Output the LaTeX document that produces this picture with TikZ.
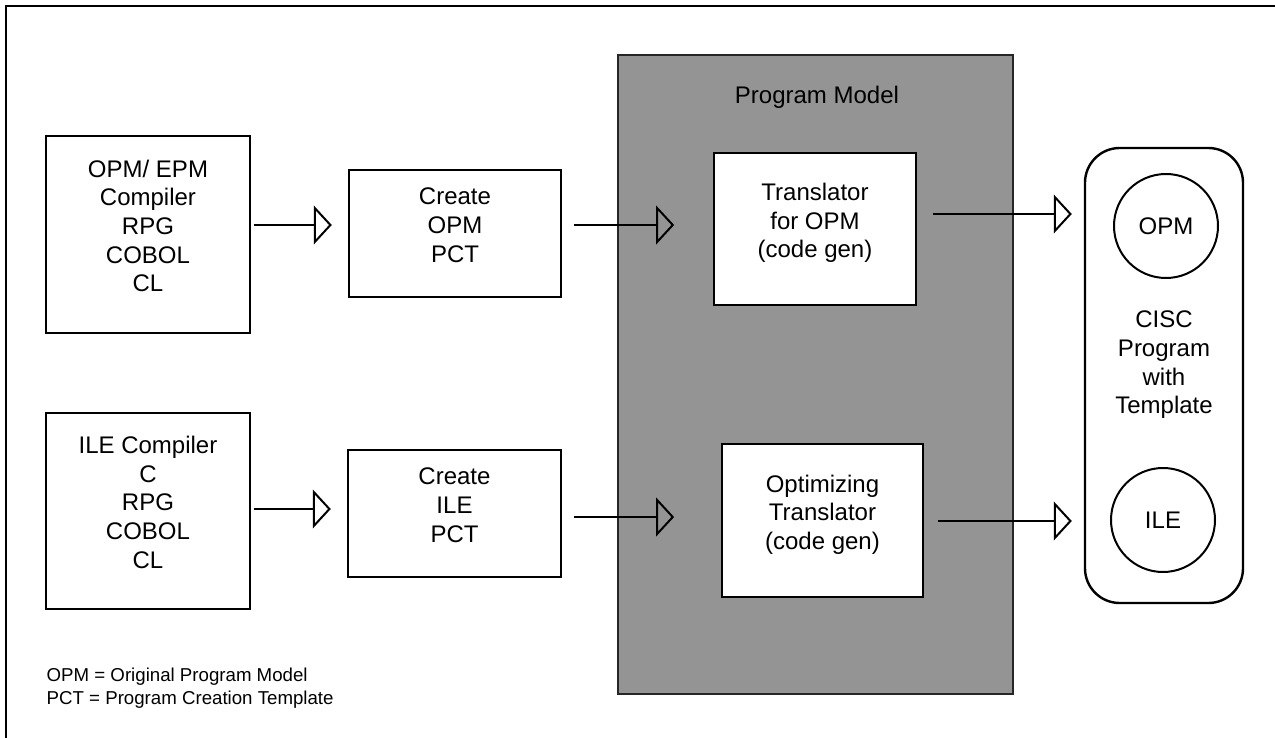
\documentclass[tikz,border=0pt]{standalone}
\usepackage{fontspec}
\setmainfont{Liberation Sans}
\usetikzlibrary{arrows.meta,fit}
\begin{document}
\begin{tikzpicture}[x=0.75pt,y=-0.75pt,
  every node/.style={font=\fontsize{18}{21.5}\selectfont, align=center},
  box/.style={draw, line width=1.8pt, fill=white, inner sep=0pt},
  model/.style={draw=black!85, line width=1.6pt, fill=black!42, inner sep=0pt},
  flow/.style={line width=1.5pt, -{Triangle[open,length=13.5pt,width=29pt,line width=1.5pt]}},
  ring/.style={draw, circle, line width=1.5pt, minimum size=78pt, inner sep=0pt},
  note/.style={font=\fontsize{14}{17.25}\selectfont, align=left, anchor=west}
]
\useasboundingbox (0,0) rectangle (1275,738);
\fill[white] (0,0) rectangle (1275,738);

% page frame
\draw[line width=1.5pt] (6,738) -- (6,6) -- (1275,6);

% shaded program model area
\node[model, fit={(618,55)(1013,694)}] (pm) {};
\node (pmtitle) at (817,97) {Program Model};

% source compilers
\node[box, fit={(46,136)(250,333)}] (opmc) {OPM/ EPM\\Compiler\\RPG\\COBOL\\CL};
\node[box, fit={(46,413)(250,609)}] (ilec) {ILE Compiler\\C\\RPG\\COBOL\\CL};

% template creation
\node[box, fit={(349,170)(561,297)}] (opmpct) {Create\\OPM\\PCT};
\node[box, fit={(348,450)(561,577)}] (ilepct) {Create\\ILE\\PCT};

% translators
\node[box, fit={(714,153)(916,305)}] (trans) {};
\node (transtxt) at ([yshift=4.5pt]trans.center) {Translator\\for OPM\\(code gen)};
\node[box, fit={(722,444)(923,597)}] (optim) {};
\node (optimtxt) at ([yshift=4.5pt]optim.center) {Optimizing\\Translator\\(code gen)};

% resulting program
\node[draw, line width=1.8pt, rounded corners=26pt, fit={(1085,148)(1243,603)}, inner sep=0pt] (cisc) {};
\node[ring] (copm) at (1166,226) {OPM};
\node[ring] (cile) at (1163,520) {ILE};
\node (ciscl) at (1164,365) {CISC\\Program\\with\\Template};

% arrow heights
\coordinate (ya) at (0,225);
\coordinate (yb) at (0,214);
\coordinate (yc) at (0,509);
\coordinate (yd) at (0,517);
\coordinate (ye) at (0,521);

\draw[flow, shorten <=2pt, shorten >=12pt] (opmc.east |- ya) -- (opmpct.west |- ya);
\draw[flow, shorten <=9pt, shorten >=29pt] (opmpct.east |- ya) -- (trans.west |- ya);
\draw[flow, shorten <=12pt, shorten >=9pt] (trans.east |- yb) -- (cisc.west |- yb);
\draw[flow, shorten <=2pt, shorten >=12pt] (ilec.east |- yc) -- (ilepct.west |- yc);
\draw[flow, shorten <=9pt, shorten >=35pt] (ilepct.east |- yd) -- (optim.west |- yd);
\draw[flow, shorten <=10.5pt, shorten >=9pt] (optim.east |- ye) -- (cisc.west |- ye);

% legend
\node[note] (legend) at (42,688.5) {OPM = Original Program Model\\PCT = Program Creation Template};
\end{tikzpicture}
\end{document}
